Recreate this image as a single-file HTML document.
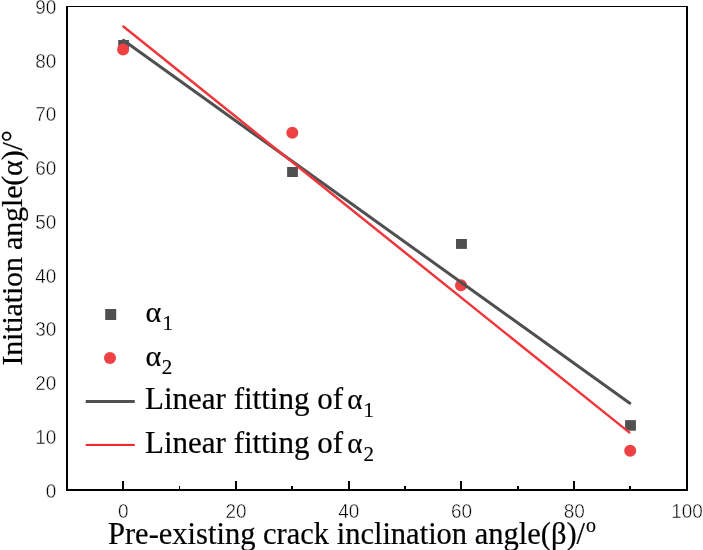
<!DOCTYPE html>
<html><head><meta charset="utf-8">
<style>
html,body{margin:0;padding:0;background:#fff;}
body{width:703px;height:550px;overflow:hidden;}
svg{display:block;will-change:transform;}
.tk{font-family:"Liberation Sans",sans-serif;font-size:20.5px;fill:#000;stroke:#fff;stroke-width:0.45px;}
.ti{font-family:"Liberation Serif",serif;font-size:30px;fill:#000;stroke:#000;stroke-width:0.2px;}
.lg{font-family:"Liberation Serif",serif;font-size:31px;fill:#000;stroke:#000;stroke-width:0.2px;}
.sb{font-size:21px;}
</style></head>
<body>
<svg width="703" height="550" viewBox="0 0 703 550">
<rect width="703" height="550" fill="#fff"/>
<!-- frame -->
<rect x="66" y="6" width="622" height="1" fill="#000"/>
<rect x="66" y="6" width="2" height="485" fill="#000"/>
<rect x="686" y="6" width="2" height="485" fill="#000"/>
<rect x="66" y="489" width="622" height="2" fill="#000"/>
<!-- x ticks major -->
<g fill="#000">
<rect x="122" y="481" width="2" height="8"/>
<rect x="235" y="481" width="2" height="8"/>
<rect x="348" y="481" width="2" height="8"/>
<rect x="460" y="481" width="2" height="8"/>
<rect x="573" y="481" width="2" height="8"/>
<!-- minor -->
<rect x="179" y="486" width="1" height="3"/>
<rect x="291" y="486" width="2" height="3"/>
<rect x="404" y="486" width="2" height="3"/>
<rect x="517" y="486" width="2" height="3"/>
<rect x="629" y="486" width="2" height="3"/>
</g>
<!-- y tick labels -->
<g class="tk" text-anchor="end">
<text transform="translate(56.3,497.80) scale(0.925,1)">0</text>
<text transform="translate(56.3,444.02) scale(0.925,1)">10</text>
<text transform="translate(56.3,390.24) scale(0.925,1)">20</text>
<text transform="translate(56.3,336.47) scale(0.925,1)">30</text>
<text transform="translate(56.3,282.69) scale(0.925,1)">40</text>
<text transform="translate(56.3,228.91) scale(0.925,1)">50</text>
<text transform="translate(56.3,175.13) scale(0.925,1)">60</text>
<text transform="translate(56.3,121.35) scale(0.925,1)">70</text>
<text transform="translate(56.3,67.58) scale(0.925,1)">80</text>
<text transform="translate(56.3,13.80) scale(0.925,1)">90</text>
</g>
<!-- x tick labels -->
<g class="tk" text-anchor="middle">
<text transform="translate(123.36,518) scale(0.925,1)">0</text>
<text transform="translate(236.09,518) scale(0.925,1)">20</text>
<text transform="translate(348.82,518) scale(0.925,1)">40</text>
<text transform="translate(461.55,518) scale(0.925,1)">60</text>
<text transform="translate(574.27,518) scale(0.925,1)">80</text>
<text transform="translate(687.00,518) scale(0.925,1)">100</text>
</g>
<!-- data squares -->
<g fill="#505050">
<rect x="118.2" y="40" width="10.7" height="10.7"/>
<rect x="287.1" y="167" width="10.8" height="10"/>
<rect x="456" y="239" width="10.9" height="9.9"/>
<rect x="625.1" y="420.1" width="10.8" height="10.6"/>
</g>
<!-- data circles -->
<g fill="#EF4044">
<circle cx="123.1" cy="49.5" r="6"/>
<circle cx="292.3" cy="132.7" r="6"/>
<circle cx="461" cy="285.2" r="6"/>
<circle cx="630.2" cy="450.7" r="6"/>
</g>
<!-- fit lines -->
<line x1="123.4" y1="40.3" x2="629.8" y2="403.2" stroke="#505050" stroke-width="3" stroke-linecap="round"/>
<line x1="123.4" y1="26.5" x2="629.2" y2="432.4" stroke="#EE383C" stroke-width="2.5" stroke-linecap="round"/>
<!-- legend -->
<rect x="105.2" y="309" width="11" height="11" fill="#505050"/>
<circle cx="110" cy="358" r="6" fill="#EF4044"/>
<rect x="85.7" y="400" width="49" height="3" fill="#505050"/>
<rect x="85.7" y="443.9" width="49" height="2.1" fill="#EE2A2E"/>
<text class="lg" x="145.5" y="322" style="font-size:30px">α<tspan class="sb" dx="1.3" dy="8">1</tspan></text>
<text class="lg" x="145.5" y="366" style="font-size:30px">α<tspan class="sb" dx="0.5" dy="8">2</tspan></text>
<text class="lg" x="145" y="409">Linear fitting of<tspan dx="-3" style="font-size:29px"> α</tspan><tspan class="sb" dx="1" dy="8">1</tspan></text>
<text class="lg" x="145" y="453">Linear fitting of<tspan dx="-3" style="font-size:29px"> α</tspan><tspan class="sb" dx="1" dy="8">2</tspan></text>
<!-- axis titles -->
<text class="ti" x="108" y="544" style="font-size:30.5px">Pre-existing crack inclination angle(β)/<tspan dx="1" dy="-11.8" style="font-size:20px">o</tspan></text>
<text class="ti" transform="translate(21.6,365.6) rotate(-90)" x="0" y="0" textLength="235.3">Initiation angle(α)/°</text>
</svg>
</body></html>
